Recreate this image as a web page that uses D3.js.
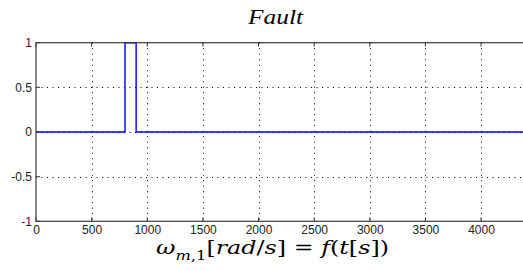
<!DOCTYPE html>
<html>
<head>
<meta charset="utf-8">
<script src="https://cdn.jsdelivr.net/npm/d3@7"></script>
<style>
  body { margin: 0; background: #fff; }
  svg { display: block; }
</style>
</head>
<body>
<svg id="chart"></svg>
<script>
const width = 523;
const height = 270;

// fault signal (step pulse)
const faultTime = [0, 800, 800, 900, 900, 4400];
const faultValue = [0, 0, 1, 1, 0, 0];

const xTicks = [0, 500, 1000, 1500, 2000, 2500, 3000, 3500, 4000];
const yTicks = [-1, -0.5, 0, 0.5, 1];
const xDomain = [0, 4400];
const yDomain = [-1, 1];

const margin = {left: 36, top: 42.7, right: -2.5, bottom: 48.7};

const svg = d3.select("#chart")
  .attr("width", width)
  .attr("height", height);

const x = d3.scaleLinear(xDomain, [margin.left, width - margin.right]);
const y = d3.scaleLinear(yDomain, [height - margin.bottom, margin.top]);

// grid lines (dotted)
const grid = svg.append("g")
  .attr("stroke", "#000")
  .attr("stroke-width", 1)
  .attr("stroke-dasharray", "1,4.5");

grid.selectAll(".vg")
  .data(xTicks.filter(d => d > xDomain[0]))
  .join("line")
  .attr("x1", d => Math.round(x(d)) + 0.5)
  .attr("x2", d => Math.round(x(d)) + 0.5)
  .attr("y1", y(yDomain[1]))
  .attr("y2", y(yDomain[0]));

grid.selectAll(".hg")
  .data(yTicks.filter(d => d > yDomain[0] && d < yDomain[1]))
  .join("line")
  .attr("x1", x(xDomain[0]))
  .attr("x2", x(xDomain[1]))
  .attr("y1", d => Math.round(y(d)) + 0.5)
  .attr("y2", d => Math.round(y(d)) + 0.5);

// the signal
const line = d3.line()
  .x((d, i) => x(faultTime[i]))
  .y(d => y(d));

svg.append("path")
  .datum(faultValue)
  .attr("fill", "none")
  .attr("stroke", "#0000ff")
  .attr("stroke-width", 1.4)
  .attr("d", line);

// axes box
svg.append("rect")
  .attr("x", x(xDomain[0]))
  .attr("y", y(yDomain[1]))
  .attr("width", x(xDomain[1]) - x(xDomain[0]))
  .attr("height", y(yDomain[0]) - y(yDomain[1]))
  .attr("fill", "none")
  .attr("stroke", "#3a3a3a")
  .attr("stroke-width", 1.2);

// inward tick marks
const tickLen = 4;
const ticks = svg.append("g").attr("stroke", "#3a3a3a").attr("stroke-width", 1);
ticks.selectAll(".xb")
  .data(xTicks)
  .join("line")
  .attr("x1", d => x(d)).attr("x2", d => x(d))
  .attr("y1", y(-1)).attr("y2", y(-1) - tickLen);
ticks.selectAll(".xt")
  .data(xTicks)
  .join("line")
  .attr("x1", d => x(d)).attr("x2", d => x(d))
  .attr("y1", y(1)).attr("y2", y(1) + tickLen);
ticks.selectAll(".yl")
  .data(yTicks)
  .join("line")
  .attr("x1", x(0)).attr("x2", x(0) + tickLen)
  .attr("y1", d => y(d)).attr("y2", d => y(d));

// tick labels
const xAxis = svg.append("g")
  .attr("transform", `translate(0,${y(-1)})`)
  .call(d3.axisBottom(x).tickValues(xTicks).tickSize(0).tickPadding(4).tickFormat(d => String(d)));
const yAxis = svg.append("g")
  .attr("transform", `translate(${x(0)},0)`)
  .call(d3.axisLeft(y).tickValues(yTicks).tickSize(0).tickPadding(4).tickFormat(d => String(d)));

[xAxis, yAxis].forEach(a => {
  a.select(".domain").remove();
  a.selectAll("text")
    .attr("fill", "#222")
    .attr("font-family", "'Liberation Sans', Arial, sans-serif")
    .attr("font-size", 12);
});

// title
svg.append("text")
  .attr("x", 248)
  .attr("y", 24)
  .attr("font-family", "'Liberation Serif', 'Times New Roman', serif")
  .attr("font-style", "italic")
  .attr("font-size", 21)
  .attr("textLength", 55)
  .attr("lengthAdjust", "spacingAndGlyphs")
  .text("Fault");

// x label: ω_{m,1}[rad/s] = f(t[s])
const xl = svg.append("text")
  .attr("x", 156)
  .attr("y", 254)
  .attr("textLength", 233)
  .attr("lengthAdjust", "spacingAndGlyphs")
  .attr("font-family", "'DejaVu Serif', serif")
  .attr("font-size", 19);
xl.append("tspan").attr("font-style", "italic").text("ω");
xl.append("tspan").attr("dy", 6).attr("font-size", 13).attr("font-style", "italic").text("m");
xl.append("tspan").attr("font-size", 13).text(",1");
xl.append("tspan").attr("dy", -6).text("[");
xl.append("tspan").attr("font-style", "italic").text("rad");
xl.append("tspan").text("/");
xl.append("tspan").attr("font-style", "italic").text("s");
xl.append("tspan").text("] = ");
xl.append("tspan").attr("font-style", "italic").text("f");
xl.append("tspan").text("(");
xl.append("tspan").attr("font-style", "italic").text("t");
xl.append("tspan").text("[");
xl.append("tspan").attr("font-style", "italic").text("s");
xl.append("tspan").text("])");
</script>
</body>
</html>
